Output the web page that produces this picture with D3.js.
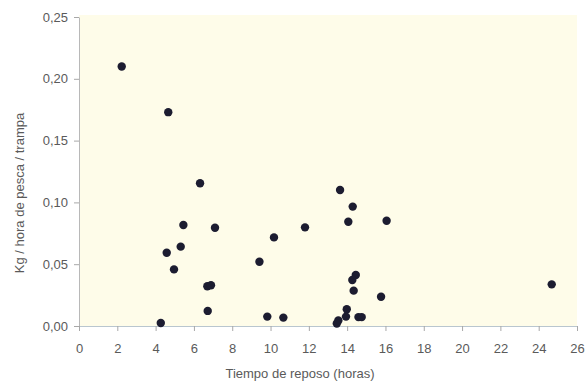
<!DOCTYPE html>
<html>
<head>
<meta charset="utf-8">
<script src="https://cdn.jsdelivr.net/npm/d3@7"></script>
<style>
  html, body { margin: 0; padding: 0; background: #ffffff; }
  svg { display: block; }
  text { font-family: "Liberation Sans", Arial, sans-serif; fill: #5a5a5a; }
</style>
</head>
<body>
<svg id="chart" width="585" height="383"></svg>
<script>
// Data: resting time (hours) vs kg per fishing hour per trap
const tiempo = [2.23, 4.66, 6.32, 5.45, 7.10, 4.58, 5.31, 4.96, 9.42, 10.18,
                6.70, 6.89, 6.72, 4.27, 9.83, 10.67, 13.63, 14.29, 14.06, 16.06,
                11.80, 14.45, 14.27, 14.34, 15.77, 24.68, 13.98, 13.94, 14.59, 14.76,
                13.54, 13.46];
const kg = [0.210, 0.173, 0.1155, 0.0817, 0.0795, 0.0593, 0.0642, 0.0458, 0.052, 0.0717,
            0.0322, 0.0330, 0.0122, 0.0024, 0.0076, 0.0068, 0.110, 0.0966, 0.0844, 0.0852,
            0.0798, 0.0413, 0.0372, 0.0286, 0.0237, 0.0337, 0.0135, 0.0076, 0.0072, 0.0072,
            0.0045, 0.0020];
const xTicks = [0, 2, 4, 6, 8, 10, 12, 14, 16, 18, 20, 22, 24, 26];
const yTicks = [0, 0.05, 0.10, 0.15, 0.20, 0.25];
const xTitle = "Tiempo de reposo (horas)";
const yTitle = "Kg / hora de pesca / trampa";

const svg = d3.select("#chart");
const mLeft = 79, mRight = 577, mTop = 17, mBottom = 326;

const x = d3.scaleLinear().domain([0, 26]).range([mLeft, mRight]);
const y = d3.scaleLinear().domain([0, 0.25]).range([mBottom, mTop]);

// plot background
svg.append("rect")
  .attr("x", mLeft).attr("y", mTop - 2)
  .attr("width", mRight - mLeft).attr("height", mBottom - mTop + 2)
  .attr("fill", "#fefce9");

const fmt = d => d3.format(".2f")(d).replace(".", ",");

// y axis
const yAxis = svg.append("g")
  .attr("transform", `translate(${mLeft},0)`)
  .call(d3.axisLeft(y).tickValues(yTicks).tickFormat(fmt).tickSize(5).tickPadding(6).tickSizeOuter(0));
yAxis.select(".domain").attr("stroke", "#b8b8b8");
yAxis.selectAll(".tick line").attr("stroke", "#a8a8a8");
yAxis.selectAll(".tick text").attr("font-size", 13).attr("fill", "#5a5a5a")
  .attr("font-family", "Liberation Sans, Arial, sans-serif");

// x axis
const xAxis = svg.append("g")
  .attr("transform", `translate(0,${mBottom})`)
  .call(d3.axisBottom(x).tickValues(xTicks).tickFormat(d3.format("d")).tickSize(5).tickPadding(13).tickSizeOuter(0));
xAxis.select(".domain").attr("stroke", "#b9c6cf");
xAxis.selectAll(".tick line").attr("stroke", "#a8a8a8");
xAxis.selectAll(".tick text").attr("font-size", 13).attr("fill", "#5a5a5a")
  .attr("font-family", "Liberation Sans, Arial, sans-serif");

// points
svg.append("g").selectAll("circle")
  .data(tiempo.map((t, i) => [t, kg[i]]))
  .join("circle")
  .attr("cx", d => x(d[0]))
  .attr("cy", d => y(d[1]))
  .attr("r", 4.2)
  .attr("fill", "#1c1c30");

// titles
svg.append("text")
  .attr("x", 300).attr("y", 378)
  .attr("text-anchor", "middle")
  .attr("font-size", 13)
  .text(xTitle);

svg.append("text")
  .attr("transform", "translate(24,193) rotate(-90)")
  .attr("text-anchor", "middle")
  .attr("font-size", 13)
  .text(yTitle);
</script>
</body>
</html>
